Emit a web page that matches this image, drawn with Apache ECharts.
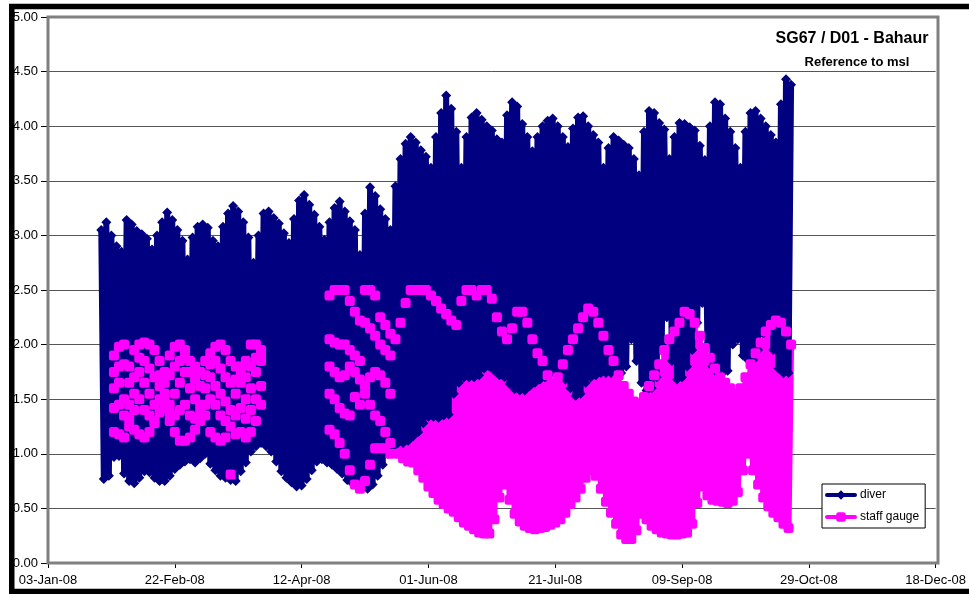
<!DOCTYPE html>
<html><head><meta charset="utf-8">
<script src="https://cdn.jsdelivr.net/npm/echarts@6/dist/echarts.min.js"></script>
<style>html,body{margin:0;padding:0;background:#fff}#c{width:969px;height:594px}</style>
</head><body><div id="c"></div>
<script>
// x values are days after 03-Jan-08
const xTickLabels = ['03-Jan-08','22-Feb-08','12-Apr-08','01-Jun-08','21-Jul-08','09-Sep-08','29-Oct-08','18-Dec-08'];
const yTickLabels = ['0.00','0.50','1.00','1.50','2.00','2.50','3.00','3.50','4.00','4.50','5.00'];

// diver: alternating daily high / low readings, starting day 21
const diverStartDay = 21;
const diverHigh = [3.05,3.12,3.00,2.90,2.85,3.14,3.10,3.04,3.01,2.97,
 2.87,3.00,3.12,3.21,3.14,3.05,2.95,2.78,2.98,3.08,
 3.10,3.07,2.95,2.90,3.08,3.20,3.27,3.22,3.12,2.98,
 2.75,3.00,3.20,3.22,3.16,3.11,3.02,2.93,3.15,3.32,
 3.37,3.28,3.19,3.08,2.96,3.12,3.25,3.31,3.22,3.13,
 3.05,2.82,3.20,3.44,3.36,3.24,3.15,3.05,3.45,3.70,
 3.84,3.90,3.85,3.78,3.72,3.62,3.90,4.12,4.28,4.16,
 3.95,3.62,3.90,4.08,4.12,4.06,4.00,3.96,3.88,3.85,
 4.10,4.22,4.18,4.02,3.90,3.77,3.90,4.00,4.05,4.07,
 4.00,3.90,3.81,3.98,4.08,4.09,4.00,3.92,3.85,3.62,
 3.80,3.90,3.87,3.83,3.80,3.70,3.55,3.95,4.14,4.12,
 4.03,3.97,3.70,3.90,4.03,4.02,3.99,3.96,3.82,3.69,
 4.00,4.22,4.20,4.07,3.95,3.80,3.62,3.95,4.12,4.14,
 4.07,4.00,3.92,3.85,4.20,4.43,4.38];
const diverLow = [0.77,0.80,0.97,0.98,0.82,0.75,0.73,0.78,0.84,0.83,
 0.78,0.75,0.75,0.80,0.86,0.90,0.93,0.95,0.92,0.96,
 1.00,0.91,0.85,0.80,0.78,0.76,0.75,0.84,0.92,1.02,
 1.07,1.10,1.07,1.02,0.93,0.84,0.78,0.74,0.70,0.71,
 0.77,0.85,0.93,0.95,0.92,0.90,0.86,0.82,0.76,0.73,
 0.70,0.69,0.68,0.72,0.80,0.90,1.00,1.06,1.10,1.10,
 1.12,1.16,1.20,1.28,1.34,1.34,1.33,1.35,1.36,1.55,
 1.65,1.70,1.70,1.70,1.72,1.78,1.80,1.76,1.72,1.70,
 1.64,1.59,1.58,1.58,1.62,1.65,1.68,1.70,1.73,1.76,
 1.77,1.68,1.60,1.53,1.55,1.65,1.70,1.72,1.74,1.74,
 1.74,1.75,1.74,1.80,2.05,1.85,1.65,1.58,1.60,1.70,
 2.00,2.25,1.85,1.68,1.70,1.80,1.95,2.20,2.38,2.00,
 1.80,1.74,1.74,1.76,2.00,2.05,1.90,1.86,1.86,1.95,
 2.10,2.22,1.95,1.78,1.74,1.74];

// staff gauge, Feb-Mar: readings every 2 days, five levels per day
const staffEarlyStartDay = 26;
const staffEarlyTop = [1.90,1.98,2.00,1.80,1.95,2.00,2.02,2.00,1.95,1.85,1.75,1.90,1.98,2.00,1.95,1.85,1.80,1.75,1.85,1.92,1.98,2.00,1.95,1.85,1.80,1.75,1.85,2.00,2.00,1.95];
const staffEarlyUpper = [1.75,1.80,1.82,1.65,1.70,1.88,1.85,1.78,1.70,1.72,1.65,1.72,1.80,1.85,1.88,1.75,1.68,1.62,1.72,1.82,1.85,1.78,1.70,1.65,1.68,1.80,1.70,1.80,1.88,1.90];
const staffEarlyMid = [1.60,1.65,1.50,1.45,1.55,1.75,1.65,1.55,1.45,1.62,1.55,1.45,1.55,1.65,1.75,1.60,1.50,1.45,1.60,1.70,1.62,1.55,1.48,1.40,1.55,1.65,1.50,1.60,1.75,1.85];
const staffEarlyLower = [1.42,1.45,1.35,1.32,1.40,1.50,1.40,1.35,1.30,1.50,1.48,1.38,1.35,1.40,1.45,1.35,1.32,1.38,1.45,1.50,1.45,1.35,1.30,1.25,1.35,1.42,1.32,1.40,1.50,1.62];
const staffEarlyBottom = [1.20,1.18,1.15,1.25,1.22,1.18,1.15,1.20,1.28,1.38,1.42,1.30,1.20,1.12,1.12,1.15,1.22,1.30,1.35,1.20,1.15,1.12,1.15,0.81,1.18,1.20,1.15,1.20,1.30,1.45];

// staff gauge, May: readings every 2 days, five levels per day
const staffMayStartDay = 111;
const staffMay1 = [2.45,2.50,2.50,2.50,2.40,2.30,2.22,2.50,2.50,2.45,2.25,2.18,2.10];
const staffMay2 = [2.05,2.02,2.00,2.00,1.95,1.90,1.85,2.20,2.15,2.08,2.00,1.95,1.90];
const staffMay3 = [1.80,1.75,1.70,1.72,1.80,1.75,1.68,1.62,1.70,1.75,1.72,1.65,1.55];
const staffMay4 = [1.55,1.50,1.42,1.37,1.35,1.52,1.45,1.55,1.45,1.35,1.30,1.20,1.10];
const staffMay5 = [1.22,1.18,1.10,1.00,0.85,0.72,0.68,0.75,0.90,1.05,1.05,1.05,1.00];

// staff gauge, Jun-Oct: alternating daily high / low readings, starting day 137
const staffLateStartDay = 137;
const staffLateHigh = [2.05,2.20,2.38,2.50,2.50,2.50,2.50,2.45,2.40,2.33,
 2.28,2.22,2.18,2.40,2.50,2.50,2.45,2.50,2.50,2.42,
 2.25,2.12,2.05,2.15,2.30,2.30,2.20,2.05,1.92,1.85,
 1.72,1.65,1.70,1.82,1.95,2.05,2.15,2.25,2.33,2.30,
 2.20,2.08,1.95,1.85,1.72,1.62,1.55,1.48,1.45,1.52,
 1.62,1.72,1.82,1.95,2.05,2.12,2.20,2.30,2.28,2.20,
 2.08,1.97,1.88,1.78,1.70,1.65,1.60,1.55,1.60,1.70,
 1.82,1.92,2.02,2.12,2.18,2.22,2.20,2.12,2.00];
const staffLateLow = [1.00,0.96,0.93,0.92,0.85,0.78,0.70,0.64,0.58,0.54,
 0.50,0.47,0.42,0.37,0.34,0.31,0.28,0.27,0.27,0.40,
 0.60,0.72,0.58,0.45,0.38,0.34,0.32,0.31,0.32,0.33,
 0.35,0.37,0.40,0.46,0.54,0.60,0.68,0.78,0.85,0.80,
 0.68,0.56,0.46,0.36,0.26,0.22,0.22,0.30,0.45,0.40,
 0.34,0.31,0.28,0.27,0.26,0.26,0.27,0.28,0.36,0.55,
 0.70,0.62,0.58,0.57,0.56,0.55,0.57,0.65,0.85,1.00,
 0.85,0.72,0.60,0.52,0.46,0.42,0.36,0.32];

const NAVY = '#000080', MAG = '#FF00FF';
const FONT = '"Liberation Sans", Arial, sans-serif';

function zigzag(start, hi, lo) {
  const pts = [];
  const n = hi.length + lo.length;
  for (let i = 0; i < n; i++) {
    pts.push([start + i, i % 2 === 0 ? hi[i / 2] : lo[(i - 1) / 2]]);
  }
  return pts;
}
function levels(start, step, arrs) {
  const pts = [];
  for (let g = 0; g < arrs[0].length; g++) {
    arrs.forEach(a => pts.push([start + g * step, a[g]]));
  }
  return pts;
}
const diverPts = zigzag(diverStartDay, diverHigh, diverLow);
const staffLatePts = zigzag(staffLateStartDay, staffLateHigh, staffLateLow);
const staffMarkPts = levels(staffEarlyStartDay, 2, [staffEarlyTop, staffEarlyUpper, staffEarlyMid, staffEarlyLower, staffEarlyBottom])
  .concat(levels(staffMayStartDay, 2, [staffMay1, staffMay2, staffMay3, staffMay4, staffMay5]))
  .concat(staffLatePts);

const chart = echarts.init(document.getElementById('c'), null, {renderer: 'canvas'});
chart.setOption({
  animation: false,
  backgroundColor: '#fff',
  title: [
    {text: 'SG67 / D01 - Bahaur', left: 852, top: 31, textAlign: 'center', padding: 0,
     textStyle: {fontSize: 16, fontWeight: 'bold', color: '#000', fontFamily: FONT}},
    {text: 'Reference to msl', left: 857, top: 56, textAlign: 'center', padding: 0,
     textStyle: {fontSize: 13, fontWeight: 'bold', color: '#000', fontFamily: FONT}}
  ],
  legend: {
    orient: 'vertical', left: 822, top: 484,
    data: ['diver', 'staff gauge'],
    backgroundColor: '#fff', borderColor: '#000', borderWidth: 1, borderRadius: 0,
    padding: [5, 6, 5, 3], itemWidth: 28, itemHeight: 12, itemGap: 10,
    selectedMode: false,
    lineStyle: {width: 4},
    textStyle: {fontSize: 12, color: '#000', fontFamily: FONT}
  },
  grid: {left: 48, right: 31, top: 17, bottom: 31, containLabel: false},
  xAxis: {
    type: 'value', min: 0, max: 350, interval: 50,
    axisLine: {show: false},
    axisTick: {show: true, length: 5, lineStyle: {color: '#000', width: 1}},
    axisLabel: {formatter: v => xTickLabels[Math.round(v / 50)], fontSize: 13, color: '#000', fontFamily: FONT, margin: 11, showMinLabel: true, showMaxLabel: true},
    splitLine: {show: false}
  },
  yAxis: {
    type: 'value', min: 0, max: 5, interval: 0.5,
    axisLine: {show: false},
    axisTick: {show: true, length: 7, lineStyle: {color: '#000', width: 1}},
    axisLabel: {formatter: v => yTickLabels[Math.round(v / 0.5)], fontSize: 13, color: '#000', fontFamily: FONT, margin: 10},
    splitLine: {show: true, lineStyle: {color: '#555', width: 1}}
  },
  graphic: [
    {type: 'rect', z: 50, silent: true, shape: {x: 48, y: 17, width: 890, height: 546},
     style: {fill: null, stroke: '#808080', lineWidth: 3}},
    {type: 'rect', z: 100, silent: true, shape: {x: 11.75, y: 6.5, width: 1200, height: 585},
     style: {fill: null, stroke: '#000', lineWidth: 5.5}}
  ],
  series: [
    {name: 'staff gauge', type: 'line', data: staffLatePts, z: 1, showSymbol: false,
     symbol: 'roundRect', symbolSize: 10, silent: true, legendHoverLink: false,
     lineStyle: {color: MAG, width: 6, join: 'round', cap: 'round'}, itemStyle: {color: MAG}, emphasis: {disabled: true}},
    {name: 'diver', type: 'line', data: diverPts, z: 2, symbol: 'diamond', symbolSize: 10,
     showSymbol: true, showAllSymbol: true, silent: true, legendHoverLink: false,
     lineStyle: {color: NAVY, width: 6, join: 'round', cap: 'round'}, itemStyle: {color: NAVY}, emphasis: {disabled: true}},
    {name: 'staff marks', type: 'scatter', data: staffMarkPts, z: 3, symbol: 'roundRect', symbolSize: 10,
     silent: true, itemStyle: {color: MAG, opacity: 1}, emphasis: {disabled: true}}
  ]
});
</script></body></html>
